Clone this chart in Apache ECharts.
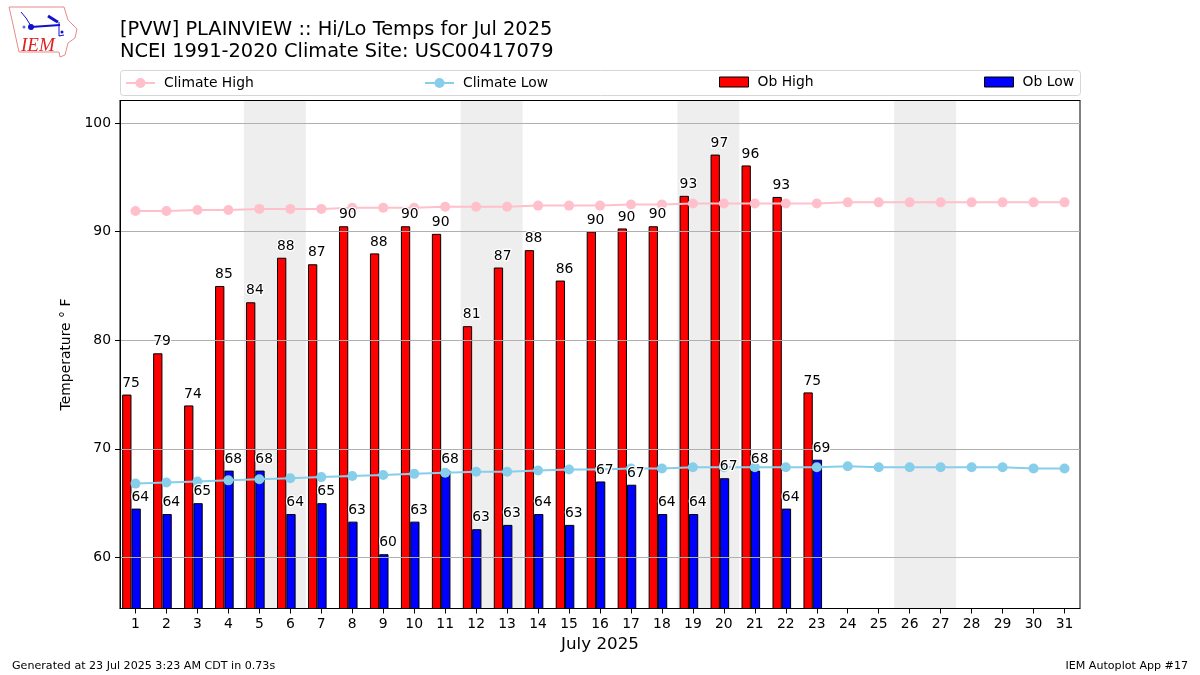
<!DOCTYPE html>
<html>
<head>
<meta charset="utf-8">
<title>Hi/Lo Temps</title>
<script src="https://cdn.jsdelivr.net/npm/echarts@6/dist/echarts.min.js"></script>
<style>
  html, body { margin: 0; padding: 0; background: #fff; }
  #chart { width: 1200px; height: 675px; }
</style>
</head>
<body>
<div id="chart"></div>
<script>
const days = ['1','2','3','4','5','6','7','8','9','10','11','12','13','14','15','16','17','18','19','20','21','22','23','24','25','26','27','28','29','30','31'];
const climateHigh = [91.9,91.9,92.0,92.0,92.1,92.1,92.1,92.2,92.2,92.2,92.3,92.3,92.3,92.4,92.4,92.4,92.5,92.5,92.6,92.6,92.6,92.6,92.6,92.7,92.7,92.7,92.7,92.7,92.7,92.7,92.7];
const climateLow = [66.8,66.9,67.0,67.1,67.2,67.3,67.4,67.5,67.6,67.7,67.8,67.9,67.9,68.0,68.1,68.1,68.2,68.2,68.3,68.3,68.3,68.3,68.3,68.4,68.3,68.3,68.3,68.3,68.3,68.2,68.2];
const obHigh = [75,78.8,74,85,83.5,87.6,87,90.5,88,90.5,89.8,81.3,86.7,88.3,85.5,90,90.3,90.5,93.3,97.1,96.1,93.2,75.2];
const obLow = [64.5,64,65,68,68,64,65,63.3,60.3,63.3,68,62.6,63,64,63,67,66.7,64,64,67.3,68,64.5,69];
const obHighLabels = ['75','79','74','85','84','88','87','90','88','90','90','81','87','88','86','90','90','90','93','97','96','93','75'];
const obLowLabels = ['64','64','65','68','68','64','65','63','60','63','68','63','63','64','63','67','67','64','64','67','68','64','69'];
const yTicks = [60,70,80,90,100];
const weekendStarts = [5,12,19,26];

const FONT = 'DejaVu Sans';
const BAR_W = 9.3;
// the bar pair sits left of the tick in the original, an empty spacer bar pushes it over
const SPACER_W = 8;
const PAIR_LEFT = -(BAR_W * 2 + SPACER_W) / 2;

const chart = echarts.init(document.getElementById('chart'), null, { renderer: 'canvas' });

// labels go in their own series so they stay above the climate lines
function labelOnly(name, values, labels, dx) {
  return {
    name: name,
    type: 'scatter',
    z: 8,
    silent: true,
    symbolSize: 1,
    itemStyle: { color: 'rgba(0,0,0,0)', opacity: 1 },
    data: values,
    label: {
      show: true,
      position: 'top',
      align: 'left',
      distance: 4,
      offset: [dx, 0],
      fontFamily: FONT,
      fontSize: 13.9,
      color: '#000',
      textBorderColor: '#fff',
      textBorderWidth: 2.5,
      formatter: p => labels[p.dataIndex]
    }
  };
}

function legendAt(name, left, top, icon, height) {
  const legend = {
    data: [{ name: name, icon: icon }],
    left: left,
    top: top,
    itemWidth: 29,
    itemHeight: height,
    itemGap: 0,
    padding: 0,
    selectedMode: false,
    textStyle: { fontFamily: FONT, fontSize: 13.9, color: '#000', padding: [0, 0, 0, 4] }
  };
  if (icon) legend.itemStyle = { borderWidth: 1, borderColor: '#000' };
  return legend;
}

const option = {
  backgroundColor: '#fff',
  animation: false,
  textStyle: { fontFamily: FONT },
  title: {
    text: '[PVW] PLAINVIEW :: Hi/Lo Temps for Jul 2025\nNCEI 1991-2020 Climate Site: USC00417079',
    left: 120,
    top: 19,
    padding: 0,
    textStyle: { fontFamily: FONT, fontSize: 19.4, fontWeight: 'normal', color: '#000', lineHeight: 22 }
  },
  legend: [
    legendAt('Climate High', 125, 76, undefined, 12.5),
    legendAt('Climate Low', 424, 76, undefined, 12.5),
    legendAt('Ob High', 719, 75, 'rect', 10),
    legendAt('Ob Low', 984, 75, 'rect', 10)
  ],
  grid: { left: 120, top: 100.5, width: 960, height: 508, show: true, borderColor: '#000', borderWidth: 1, backgroundColor: '#fff' },
  xAxis: [
    {
      type: 'category',
      data: days,
      boundaryGap: true,
      z: 3,
      name: 'July 2025',
      nameLocation: 'middle',
      nameGap: 28,
      nameTextStyle: { fontFamily: FONT, fontSize: 16.7, color: '#000' },
      axisLine: { show: true, onZero: false, lineStyle: { color: '#000', width: 1 } },
      axisTick: { show: true, alignWithLabel: true, length: 5, lineStyle: { color: '#000' } },
      axisLabel: { color: '#000', fontFamily: FONT, fontSize: 13.9, margin: 9, interval: 0 },
      splitLine: { show: false }
    },
    {
      // hidden day scale for the weekend bands, also closes the top of the frame
      type: 'value',
      min: 0.5,
      max: 31.5,
      position: 'top',
      z: 3,
      axisLine: { show: true, onZero: false, lineStyle: { color: '#000', width: 1 } },
      axisTick: { show: false },
      axisLabel: { show: false },
      splitLine: { show: false }
    }
  ],
  yAxis: {
    type: 'value',
    min: 55.3,
    max: 102.08,
    z: 3,
    name: 'Temperature ° F',
    nameLocation: 'middle',
    nameRotate: 90,
    nameGap: 47,
    nameTextStyle: { fontFamily: FONT, fontSize: 13.9, color: '#000' },
    axisLine: { show: true, onZero: false, lineStyle: { color: '#000', width: 1 } },
    axisTick: { show: true, length: 5, lineStyle: { color: '#000' }, customValues: yTicks },
    axisLabel: { color: '#000', fontFamily: FONT, fontSize: 13.9, margin: 9, customValues: yTicks },
    splitLine: { show: true, lineStyle: { color: '#b0b0b0', width: 1 } }
  },
  tooltip: { show: false },
  series: [
    {
      name: 'Weekend',
      type: 'line',
      xAxisIndex: 1,
      z: 1,
      silent: true,
      data: [],
      markArea: {
        silent: true,
        z: 1,
        itemStyle: { color: '#eeeeee' },
        data: weekendStarts.map(d => [{ xAxis: d - 0.5 }, { xAxis: d + 1.5 }])
      }
    },
    {
      name: 'Ob High',
      type: 'bar',
      z: 2,
      data: obHigh,
      barWidth: BAR_W,
      barGap: '0%',
      itemStyle: { color: '#ff0000', borderColor: '#000', borderWidth: 1 }
    },
    {
      name: 'Ob Low',
      type: 'bar',
      z: 2,
      data: obLow,
      barWidth: BAR_W,
      barGap: '0%',
      itemStyle: { color: '#0000ff', borderColor: '#000', borderWidth: 1 }
    },
    {
      name: 'Spacer',
      type: 'bar',
      z: 2,
      data: [],
      barWidth: SPACER_W,
      barGap: '0%'
    },
    {
      name: 'Climate High',
      type: 'line',
      z: 5,
      data: climateHigh,
      symbol: 'circle',
      symbolSize: 10,
      showAllSymbol: true,
      lineStyle: { color: '#ffc0cb', width: 2 },
      itemStyle: { color: '#ffc0cb' }
    },
    {
      name: 'Climate Low',
      type: 'line',
      z: 5,
      data: climateLow,
      symbol: 'circle',
      symbolSize: 10,
      showAllSymbol: true,
      lineStyle: { color: '#87ceeb', width: 2 },
      itemStyle: { color: '#87ceeb' }
    },
    labelOnly('High labels', obHigh, obHighLabels, PAIR_LEFT),
    labelOnly('Low labels', obLow, obLowLabels, PAIR_LEFT + BAR_W)
  ],
  graphic: [
    // legend frame
    { type: 'rect', z: -1, shape: { x: 120.5, y: 70.5, width: 960, height: 25, r: 3 }, style: { fill: '#fff', stroke: '#d6d6d6', lineWidth: 1 } },
    // IEM logo
    { type: 'polyline', shape: { points: [[9,7],[64,7],[68,20],[77,29],[75,38],[68,43],[65,55],[60,57],[59,52],[19,52],[12,20],[9,7]] }, style: { fill: 'none', stroke: '#e88a8a', lineWidth: 1 } },
    { type: 'text', style: { x: 21, y: 36, text: 'IEM', fontFamily: 'Liberation Serif', fontStyle: 'italic', fontSize: 19, fill: '#d22' } },
    { type: 'polyline', shape: { points: [[31,27],[60,25]] }, style: { fill: 'none', stroke: '#11c', lineWidth: 2 } },
    { type: 'circle', shape: { cx: 31, cy: 27, r: 3 }, style: { fill: '#11c' } },
    { type: 'polyline', shape: { points: [[21,12],[26,18],[31,26]] }, style: { fill: 'none', stroke: '#11c', lineWidth: 1 } },
    { type: 'polyline', shape: { points: [[48,16],[56,21],[58,22]] }, style: { fill: 'none', stroke: '#11c', lineWidth: 3 } },
    { type: 'polyline', shape: { points: [[59,22],[59,36],[64,35]] }, style: { fill: 'none', stroke: '#11c', lineWidth: 1 } },
    { type: 'circle', shape: { cx: 24, cy: 27, r: 1.5 }, style: { fill: '#66c' } },
    { type: 'circle', shape: { cx: 62, cy: 32, r: 1.5 }, style: { fill: '#11c' } },
    // footer
    { type: 'text', style: { x: 12, y: 661, text: 'Generated at 23 Jul 2025 3:23 AM CDT in 0.73s', fontFamily: FONT, fontSize: 11.1, fill: '#000' } },
    { type: 'text', style: { x: 1188, y: 661, text: 'IEM Autoplot App #17', align: 'right', fontFamily: FONT, fontSize: 11.1, fill: '#000' } }
  ]
};

chart.setOption(option);
</script>
</body>
</html>
